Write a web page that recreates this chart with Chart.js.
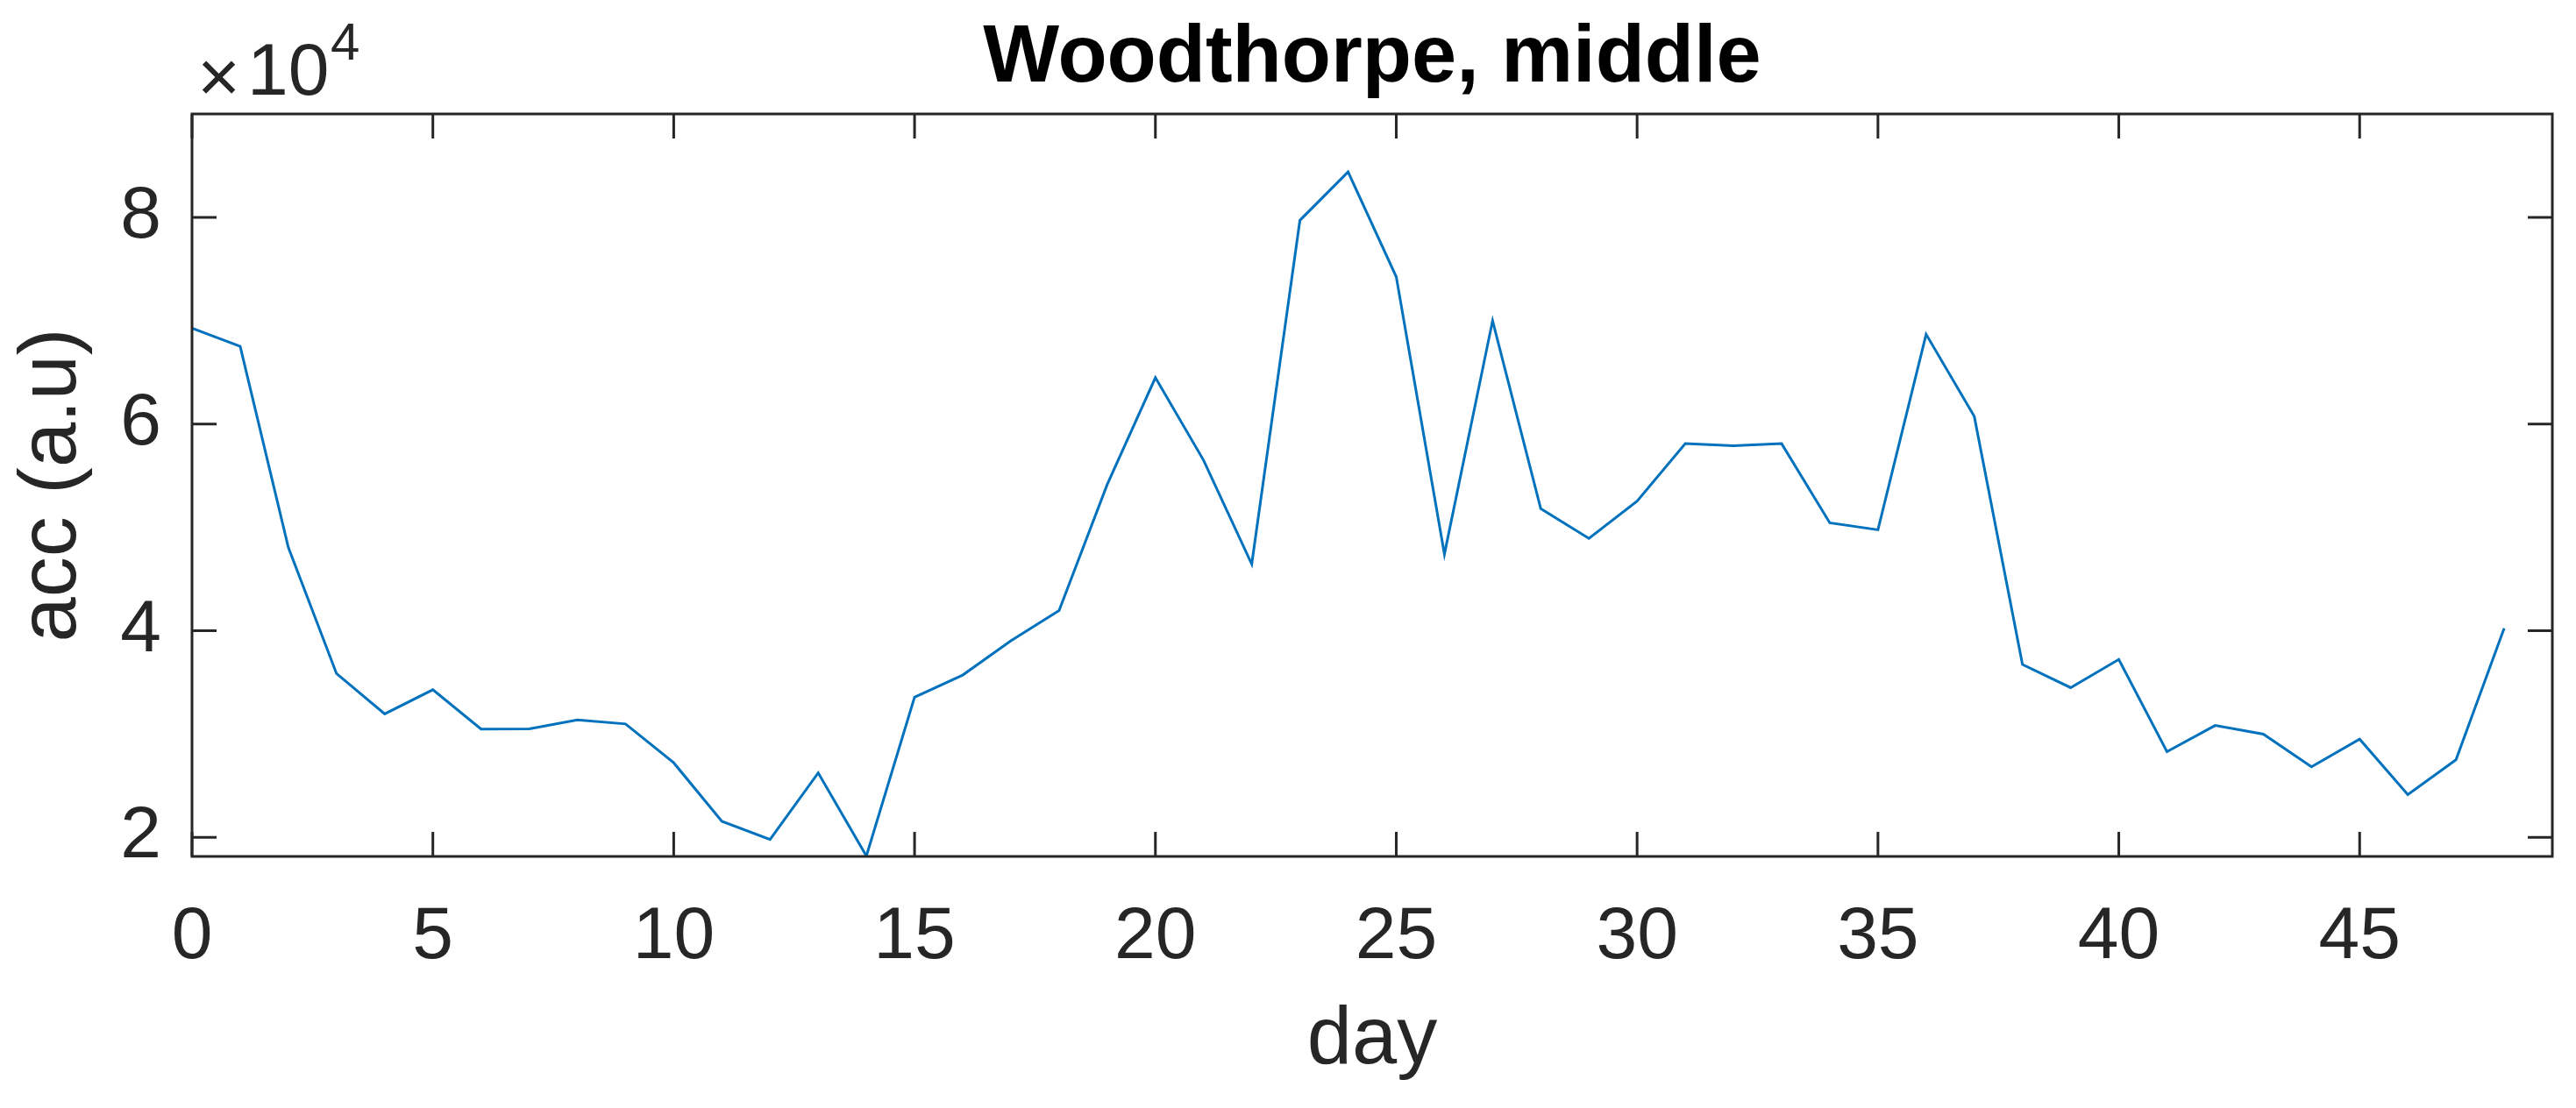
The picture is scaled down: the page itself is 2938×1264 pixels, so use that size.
<!DOCTYPE html>
<html>
<head>
<meta charset="utf-8">
<script src="https://cdn.jsdelivr.net/npm/chart.js@4/dist/chart.umd.min.js"></script>
<style>
  html, body { margin: 0; padding: 0; background: #ffffff; }
  #wrap { width: 2938px; height: 1264px; }
</style>
</head>
<body>
<div id="wrap"><canvas id="c" width="2938" height="1264"></canvas></div>
<script>
// ---- data ----
const days = [0,1,2,3,4,5,6,7,8,9,10,11,12,13,14,15,16,17,18,19,20,21,22,23,24,25,26,27,28,29,30,31,32,33,34,35,36,37,38,39,40,41,42,43,44,45,46,47,48];
const acc = [69270,67510,48050,35850,31950,34290,30490,30500,31370,30980,27220,21560,19800,26240,18200,33560,35710,39020,41950,54150,64490,56490,46440,79710,84390,74240,47410,70000,51800,48930,52540,58100,57900,58100,50440,49760,68680,60730,36730,34490,37220,28290,30830,30000,26830,29510,24150,27510,40240];
const xTicks = [0,5,10,15,20,25,30,35,40,45];
const yTicks = [20000,40000,60000,80000];
const xRange = [0, 49];
const yRange = [18160, 90000];
const titleText = 'Woodthorpe, middle';
const xLabel = 'day';
const yLabel = 'acc (a.u)';
const yScaleExp = 4;

const FONT = '"Liberation Sans", Arial, Helvetica, sans-serif';
const AX = '#262626';

const boxPlugin = {
  id: 'matlabBox',
  afterDatasetsDraw(chart) {
    const ctx = chart.ctx;
    const a = chart.chartArea;
    const xs = chart.scales.x, ys = chart.scales.y;
    const tl = 28;
    ctx.save();
    ctx.strokeStyle = AX;
    ctx.lineWidth = 3;
    ctx.beginPath();
    xs.ticks.forEach(t => {
      const px = xs.getPixelForValue(t.value);
      ctx.moveTo(px, a.bottom); ctx.lineTo(px, a.bottom - tl);
      ctx.moveTo(px, a.top); ctx.lineTo(px, a.top + tl);
    });
    ys.ticks.forEach(t => {
      const py = ys.getPixelForValue(t.value);
      ctx.moveTo(a.left, py); ctx.lineTo(a.left + tl, py);
      ctx.moveTo(a.right, py); ctx.lineTo(a.right - tl, py);
    });
    ctx.stroke();
    ctx.strokeRect(a.left, a.top, a.right - a.left, a.bottom - a.top);
    // exponent label  ×10^4
    ctx.fillStyle = AX;
    ctx.textAlign = 'left';
    ctx.textBaseline = 'alphabetic';
    ctx.font = '84px ' + FONT;
    ctx.fillText('\u00D7', a.left + 6, a.top - 14);
    ctx.fillText('10', a.left + 63, a.top - 22);
    ctx.font = '60px ' + FONT;
    ctx.fillText(String(yScaleExp), a.left + 158, a.top - 62);
    ctx.restore();
  }
};

new Chart(document.getElementById('c'), {
  type: 'line',
  data: {
    datasets: [{
      data: days.map((d, i) => ({ x: d, y: acc[i] })),
      borderColor: '#0072BD',
      borderWidth: 3,
      pointRadius: 0,
      tension: 0,
      fill: false
    }]
  },
  options: {
    responsive: false,
    animation: false,
    devicePixelRatio: 1,
    layout: { padding: { left: 0, right: 27, top: 0, bottom: 0 } },
    plugins: {
      legend: { display: false },
      tooltip: { enabled: false },
      title: {
        display: true,
        text: titleText,
        fullSize: false,
        align: 'center',
        color: '#000000',
        font: { family: FONT, size: 92, weight: 'bold' },
        padding: { top: 12.8, bottom: 6.8 }
      }
    },
    scales: {
      x: {
        type: 'linear',
        position: 'bottom',
        min: xRange[0],
        max: xRange[1],
        afterBuildTicks: s => { s.ticks = xTicks.map(v => ({ value: v })); },
        afterFit: s => { s.height = 287; },
        grid: { display: false, drawTicks: false },
        border: { display: false },
        ticks: {
          color: AX,
          font: { family: FONT, size: 84 },
          padding: 42,
          maxRotation: 0,
          autoSkip: false,
          callback: v => String(v)
        },
        title: {
          display: true,
          text: xLabel,
          color: AX,
          font: { family: FONT, size: 92 },
          padding: { top: 0, bottom: 20.8 }
        }
      },
      y: {
        type: 'linear',
        position: 'left',
        min: yRange[0],
        max: yRange[1],
        afterBuildTicks: s => { s.ticks = yTicks.map(v => ({ value: v })); },
        afterFit: s => { s.width = 219; },
        grid: { display: false, drawTicks: false },
        border: { display: false },
        ticks: {
          color: AX,
          font: { family: FONT, size: 84 },
          padding: 35,
          autoSkip: false,
          callback: v => String(v / Math.pow(10, yScaleExp))
        },
        title: {
          display: true,
          text: yLabel,
          color: AX,
          font: { family: FONT, size: 92 },
          padding: { top: 5.8, bottom: 0 }
        }
      }
    }
  },
  plugins: [boxPlugin]
});
</script>
</body>
</html>
